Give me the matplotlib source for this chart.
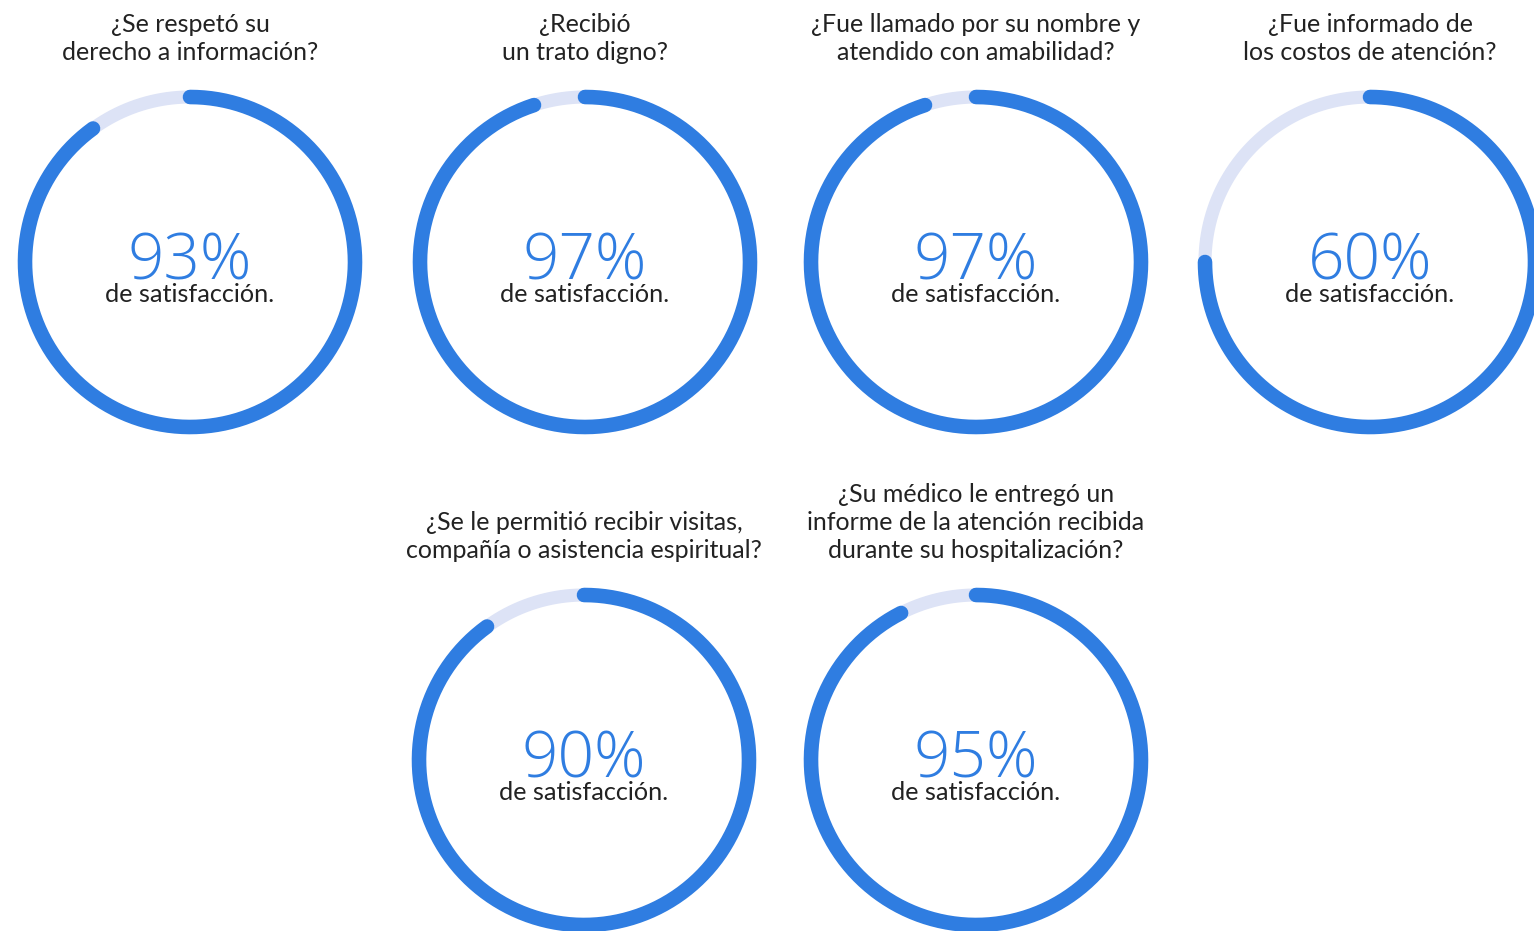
import numpy as np
import matplotlib.pyplot as plt

# survey questions and results
questions = [
    "¿Se respetó su\nderecho a información?",
    "¿Recibió\nun trato digno?",
    "¿Fue llamado por su nombre y\natendido con amabilidad?",
    "¿Fue informado de\nlos costos de atención?",
    "¿Se le permitió recibir visitas,\ncompañía o asistencia espiritual?",
    "¿Su médico le entregó un\ninforme de la atención recibida\ndurante su hospitalización?",
]
satisfaction = [93, 97, 97, 60, 90, 95]
# share of the ring that is filled, as drawn in the original
ring_fill = [0.90, 0.95, 0.95, 0.75, 0.90, 0.925]

blue = "#2f7de1"
track = "#dde3f6"
dark = "#222222"

plt.rcParams["font.family"] = ["Lato", "DejaVu Sans"]

fig = plt.figure(figsize=(15.34, 9.31), dpi=100)
ax = fig.add_axes([0, 0, 1, 1])
ax.set_xlim(0, 1534)
ax.set_ylim(931, 0)
ax.set_aspect("equal")
ax.axis("off")

centers = [(190, 262), (585, 262), (976, 262), (1370, 262), (584, 760), (976, 760)]
r = 165
lw = 10.5

for (cx, cy), q, val, fill in zip(centers, questions, satisfaction, ring_fill):
    t = np.linspace(0, 2 * np.pi, 400)
    ax.plot(cx + r * np.sin(t), cy - r * np.cos(t), color=track, lw=lw * 0.9,
            solid_capstyle="round")
    t = np.linspace(0, 2 * np.pi * fill, 400)
    ax.plot(cx + r * np.sin(t), cy - r * np.cos(t), color=blue, lw=lw,
            solid_capstyle="round")

    ax.text(cx, cy + 17, f"{val}%", color=blue, fontsize=46,
            family=["Open Sans", "Lato"], fontweight="light",
            ha="center", va="baseline")
    ax.text(cx, cy + 33, "de satisfacción.", color=dark, fontsize=18.2,
            ha="center", va="center")
    ax.text(cx, cy - 198, q, color=dark, fontsize=18, ha="center", va="bottom",
            linespacing=1.25)

fig.savefig("out.png", dpi=100, facecolor="white")
